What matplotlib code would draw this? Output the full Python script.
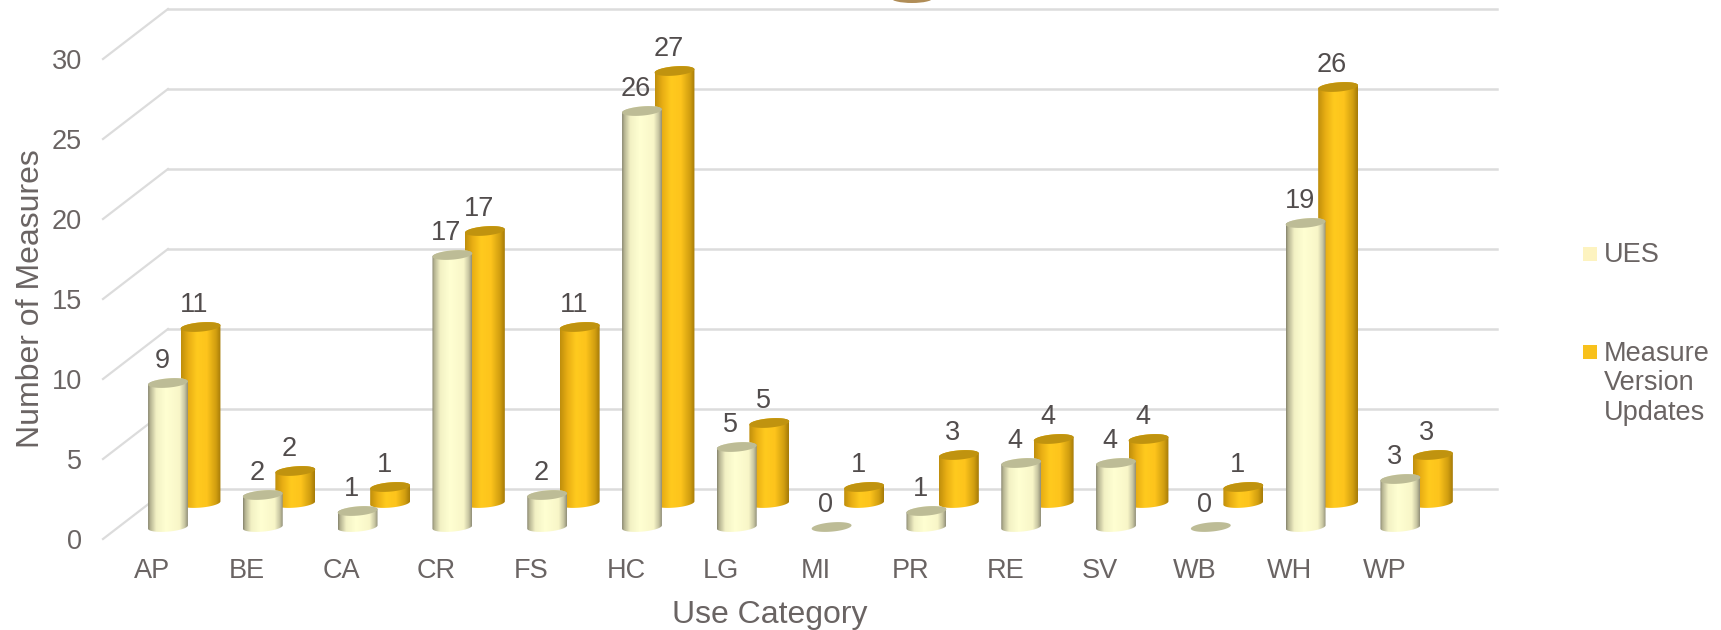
import numpy as np
import matplotlib
matplotlib.use('Agg')
import matplotlib.pyplot as plt
from matplotlib.colors import LinearSegmentedColormap
from matplotlib.patches import Ellipse, Polygon, Rectangle
from matplotlib.path import Path

# Data
categories = ['AP', 'BE', 'CA', 'CR', 'FS', 'HC', 'LG', 'MI', 'PR', 'RE', 'SV', 'WB', 'WH', 'WP']
ues_values = [9, 2, 1, 17, 2, 26, 5, 0, 1, 4, 4, 0, 19, 3]
update_values = [11, 2, 1, 17, 11, 27, 5, 1, 3, 4, 4, 1, 26, 3]
y_ticks = [0, 5, 10, 15, 20, 25, 30]

# Layout, all in pixels of the 1721x630 picture
W, H = 1721, 630
AX_LEFT, AX_BOTTOM = 103, 539
PX_PER_CAT = 94.8
PX_PER_UNIT = 16.0
FIRST_CAT = 168
DEPTH_X, DEPTH_Y = 65, 50
WALL_RIGHT = 1497
RADIUS, MINOR, TILT = 20.0, 4.6, np.radians(5)

TEXT = '#6a6463'
LABEL = '#524d4d'
GRID = '#dcdcdc'

plt.rcParams['font.family'] = ['Liberation Sans', 'DejaVu Sans']

ues_cmap = LinearSegmentedColormap.from_list(
    'ues', [(0, '#8a8870'), (0.05, '#b5b392'), (0.2, '#f2f1c4'), (0.45, '#ffffd2'),
            (0.8, '#f8f6c8'), (0.93, '#c6c4a0'), (1, '#94927a')])
update_cmap = LinearSegmentedColormap.from_list(
    'updates', [(0, '#c08f0c'), (0.18, '#e8ae14'), (0.4, '#ffca1e'), (0.65, '#fdc41c'),
                (0.88, '#d29f10'), (1, '#a67c08')])

fig = plt.figure(figsize=(W / 100, H / 100), dpi=100)
ax = fig.add_axes([AX_LEFT / W, (H - AX_BOTTOM) / H, (W - AX_LEFT) / W, AX_BOTTOM / H])
ax.set_xlim((AX_LEFT - FIRST_CAT) / PX_PER_CAT, (W - FIRST_CAT) / PX_PER_CAT)
ax.set_ylim(0, AX_BOTTOM / PX_PER_UNIT)
xlim, ylim = ax.get_xlim(), ax.get_ylim()
for spine in ax.spines.values():
    spine.set_visible(False)
ax.patch.set_alpha(0)


def ellipse_points(cat_x, value_y):
    # tilted ellipse around a point given in data units
    t = np.linspace(0, 2 * np.pi, 121)[:-1]
    ex = RADIUS * np.cos(t) * np.cos(TILT) - MINOR * np.sin(t) * np.sin(TILT)
    ey = RADIUS * np.cos(t) * np.sin(TILT) + MINOR * np.sin(t) * np.cos(TILT)
    return cat_x + ex / PX_PER_CAT, value_y + ey / PX_PER_UNIT


def draw_cylinder(cat, value, shift_x, shift_y, cmap, top_color, zorder):
    x0 = cat + shift_x / PX_PER_CAT
    base = shift_y / PX_PER_UNIT
    tx, ty = ellipse_points(x0, base + value)
    if value > 0:
        bx, by = ellipse_points(x0, base)
        left, right = np.argmin(bx), np.argmax(bx)
        # lower arc of the base runs left to right, upper arc of the top comes back
        low = np.arange(left, left + ((right - left) % len(bx)) + 1) % len(bx)
        up = np.arange(right, right + ((left - right) % len(bx)) + 1) % len(bx)
        outline = np.r_[np.c_[bx[low], by[low]], np.c_[tx[up], ty[up]]]
        im = ax.imshow(np.linspace(0, 1, 64)[None, :], cmap=cmap, aspect='auto',
                       interpolation='bilinear', zorder=zorder,
                       extent=[bx.min(), bx.max(), by.min(), ty.max()])
        im.set_clip_path(Path(np.vstack([outline, outline[0]])), ax.transData)
    ax.add_patch(Polygon(np.c_[tx, ty], closed=True, facecolor=top_color,
                         edgecolor='none', zorder=zorder + 0.1))
    ax.annotate(str(value), xy=(x0, base + value), xytext=(-6 * 0.72, 21.5 * 0.72),
                textcoords='offset points', ha='center', va='center',
                fontsize=19.5, color=LABEL, zorder=20)


# Back wall and side wall gridlines
wall_x0 = ax.get_xlim()[0] + DEPTH_X / PX_PER_CAT
wall_x1 = (WALL_RIGHT - FIRST_CAT) / PX_PER_CAT
wall_dy = DEPTH_Y / PX_PER_UNIT
for v in y_ticks:
    ax.plot([xlim[0], wall_x0], [v, v + wall_dy], color=GRID, lw=1.6, zorder=1, clip_on=False)
    ax.plot([wall_x0, wall_x1], [v + wall_dy, v + wall_dy], color=GRID, lw=1.8, zorder=1)

# Orange row sits behind, pale row in front
for i, v in enumerate(update_values):
    draw_cylinder(i, v, 32.5, 36, update_cmap, '#c0930f', 3 + i * 0.01)
for i, v in enumerate(ues_values):
    draw_cylinder(i, v, 0, 12, ues_cmap, '#bdbc96', 5 + i * 0.01)

# Stray brown shape cut by the top edge of the picture
ax.add_patch(Ellipse(((912 - FIRST_CAT) / PX_PER_CAT, (AX_BOTTOM + 2) / PX_PER_UNIT),
                     42 / PX_PER_CAT, 10 / PX_PER_UNIT, facecolor='#b08d57',
                     edgecolor='none', zorder=2))

ax.set_xlim(xlim)
ax.set_ylim(ylim)
ax.set_aspect('auto')

ax.set_yticks(y_ticks)
ax.set_xticks(np.arange(len(categories)) - 16 / PX_PER_CAT)
ax.set_xticklabels(categories)
ax.tick_params(axis='y', length=0, pad=15, labelsize=19.5, labelcolor=TEXT)
ax.tick_params(axis='x', length=0, pad=13.5, labelsize=19.5, labelcolor=TEXT)

ax.set_xlabel('Use Category', fontsize=23, color=TEXT, va='center')
ax.xaxis.set_label_coords((770 - AX_LEFT) / (W - AX_LEFT), -(615 - AX_BOTTOM) / AX_BOTTOM)
ax.set_ylabel('Number of Measures', fontsize=23, color=TEXT, va='center')
ax.yaxis.set_label_coords(-(AX_LEFT - 31) / (W - AX_LEFT), (AX_BOTTOM - 299) / AX_BOTTOM)

# Legend
fig.add_artist(Rectangle((1583 / W, 1 - 261 / H), 14 / W, 14 / H, facecolor='#fdf3c0',
                         edgecolor='none', transform=fig.transFigure))
fig.add_artist(Rectangle((1583 / W, 1 - 359 / H), 14 / W, 14 / H, facecolor='#f8c11c',
                         edgecolor='none', transform=fig.transFigure))
fig.text(1604 / W, 1 - 255 / H, 'UES', fontsize=19.5, color=TEXT, va='center')
fig.text(1604 / W, 1 - 383.5 / H, 'Measure\nVersion\nUpdates', fontsize=19.5, color=TEXT,
         va='center', linespacing=1.18)

fig.savefig('out.png', dpi=100)
